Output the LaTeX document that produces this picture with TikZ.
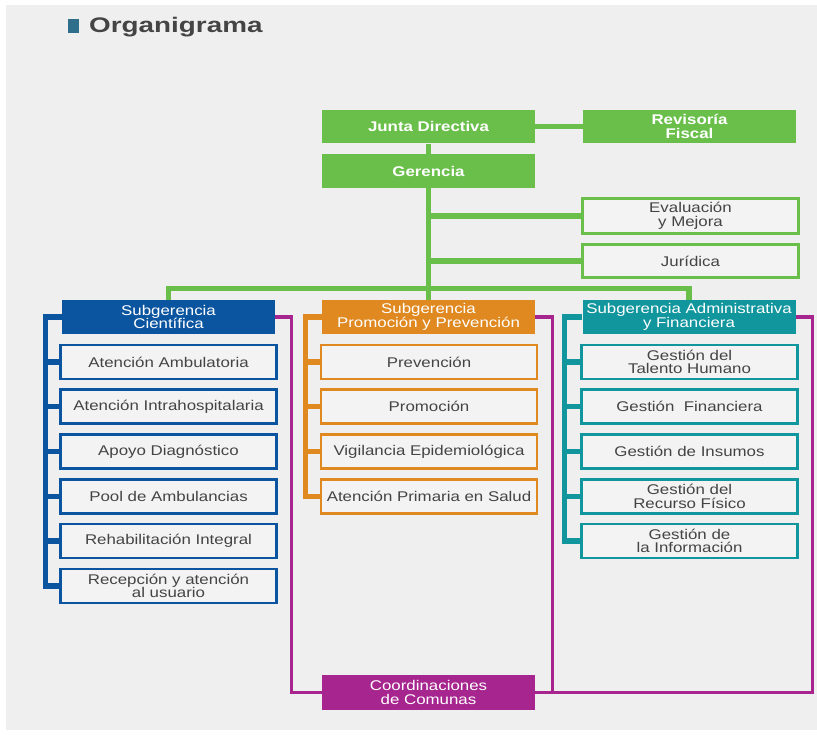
\documentclass[tikz,border=0pt]{standalone}
\usepackage{fontspec}
\setmainfont[FakeStretch=1.2]{Liberation Sans}
\newfontfamily\titlefont[FakeStretch=1.32]{Liberation Sans}
\usetikzlibrary{positioning}
\definecolor{fondo}{HTML}{EFEFEF}
\definecolor{caja}{HTML}{F3F3F3}
\definecolor{texto}{HTML}{444444}
\definecolor{verde}{HTML}{6ABF4B}
\definecolor{azul}{HTML}{0B55A0}
\definecolor{naranja}{HTML}{DF8920}
\definecolor{turquesa}{HTML}{12969E}
\definecolor{morado}{HTML}{A6258F}
\definecolor{barra}{HTML}{2F6F8C}

\begin{document}
\begin{tikzpicture}[x=0.03cm, y=-0.03cm,
    every node/.style={font=\fontsize{12}{11.5}\selectfont, align=center, inner sep=0pt},
    jefe/.style={fill=verde, text=white, font=\fontsize{12}{11.5}\selectfont\bfseries,
                 minimum width=6.39cm, minimum height=1.01cm},
    ofi/.style={draw=verde, line width=2.5pt, fill=caja, text=texto,
                minimum width=6.48cm, minimum height=#1},
    sub/.style={fill=#1, text=white, minimum width=6.39cm, minimum height=1.02cm},
    hijo/.style={draw=#1, line width=2.5pt, fill=caja, text=texto,
                 minimum width=6.48cm, minimum height=1.02cm},
    lv/.style={draw=verde, line width=4.3pt},
    br/.style={draw=#1, line width=4.3pt},
    ml/.style={draw=morado, line width=2.6pt},
  ]
  \useasboundingbox (0,0) rectangle (817,740);
  \fill[white] (0,0) rectangle (817,740);
  \fill[fondo] (6,5) rectangle (817,730);
  \fill[barra] (68,19) rectangle (79,33);
  \node[anchor=base west, text=texto, font=\titlefont\fontsize{18}{20}\selectfont\bfseries]
    (titulo) at (89,33) {Organigrama};

  \node[jefe] (jd) at (428.5,126.5) {Junta Directiva};
  \node[jefe] (rev) at (689.5,126.5) {Revisoría\\Fiscal};
  \node[jefe] (ger) at (428.5,171) {Gerencia};
  \node[ofi=1.05cm] (eval) at (690.5,216) {Evaluación\\y Mejora};
  \node[ofi=0.99cm] (jur) at (690.5,261) {Jurídica};

  \node[sub=azul] (sc) at (168.5,317) {Subgerencia\\Científica};
  \node[sub=naranja] (spp) at (428.5,317) {Subgerencia\\Promoción y Prevención};
  \node[sub=turquesa] (saf) at (689,317) {Subgerencia Administrativa\\y Financiera};

  \node[hijo=azul] (a1) at (168.5,362) {Atención Ambulatoria};
  \node[hijo=azul] (a2) at (168.5,406.5) {Atención Intrahospitalaria};
  \node[hijo=azul] (a3) at (168.5,451.5) {Apoyo Diagnóstico};
  \node[hijo=azul] (a4) at (168.5,496.5) {Pool de Ambulancias};
  \node[hijo=azul] (a5) at (168.5,541) {Rehabilitación Integral};
  \node[hijo=azul] (a6) at (168.5,586) {Recepción y atención\\al usuario};

  \node[hijo=naranja] (p1) at (429,362) {Prevención};
  \node[hijo=naranja] (p2) at (429,406.5) {Promoción};
  \node[hijo=naranja] (p3) at (429,451.5) {Vigilancia Epidemiológica};
  \node[hijo=naranja] (p4) at (429,496.5) {Atención Primaria en Salud};

  \node[hijo=turquesa] (f1) at (689.5,362) {Gestión del\\Talento Humano};
  \node[hijo=turquesa] (f2) at (689.5,406.5) {Gestión\ \ Financiera};
  \node[hijo=turquesa] (f3) at (689.5,451.5) {Gestión de Insumos};
  \node[hijo=turquesa] (f4) at (689.5,496.5) {Gestión del\\Recurso Físico};
  \node[hijo=turquesa] (f5) at (689.5,541) {Gestión de\\la Información};

  \node[sub=morado, minimum height=1.05cm] (coord) at (428.5,692.5) {Coordinaciones\\de Comunas};

  \draw[lv] (jd) -- (rev);
  \draw[lv] (jd) -- (ger);
  \draw[lv] (ger) -- (spp);
  \draw[lv] (eval.west) -- (eval.west -| ger);
  \draw[lv] (jur.west) -- (jur.west -| ger);
  \draw[lv] (sc.north) -- ++(0,-11) -| (saf.north);

  \draw[br=azul] (sc.west) -- ++(-16,0) |- (a6.west);
  \draw[br=azul] (a1.west) -- ++(-15,0);
  \draw[br=azul] (a2.west) -- ++(-15,0);
  \draw[br=azul] (a3.west) -- ++(-15,0);
  \draw[br=azul] (a4.west) -- ++(-15,0);
  \draw[br=azul] (a5.west) -- ++(-15,0);

  \draw[br=naranja] (spp.west) -- ++(-16,0) |- (p4.west);
  \draw[br=naranja] (p1.west) -- ++(-16,0);
  \draw[br=naranja] (p2.west) -- ++(-16,0);
  \draw[br=naranja] (p3.west) -- ++(-16,0);

  \draw[br=turquesa] (saf.west) -- ++(-18,0) |- (f5.west);
  \draw[br=turquesa] (f1.west) -- ++(-18,0);
  \draw[br=turquesa] (f2.west) -- ++(-18,0);
  \draw[br=turquesa] (f3.west) -- ++(-18,0);
  \draw[br=turquesa] (f4.west) -- ++(-18,0);

  \draw[ml] (sc.east) -- ++(16,0) |- (coord.west);
  \draw[ml] (spp.east) -- ++(17,0) |- (coord.east);
  \draw[ml] (saf.east) -- ++(17,0) |- (coord.east);
\end{tikzpicture}
\end{document}
